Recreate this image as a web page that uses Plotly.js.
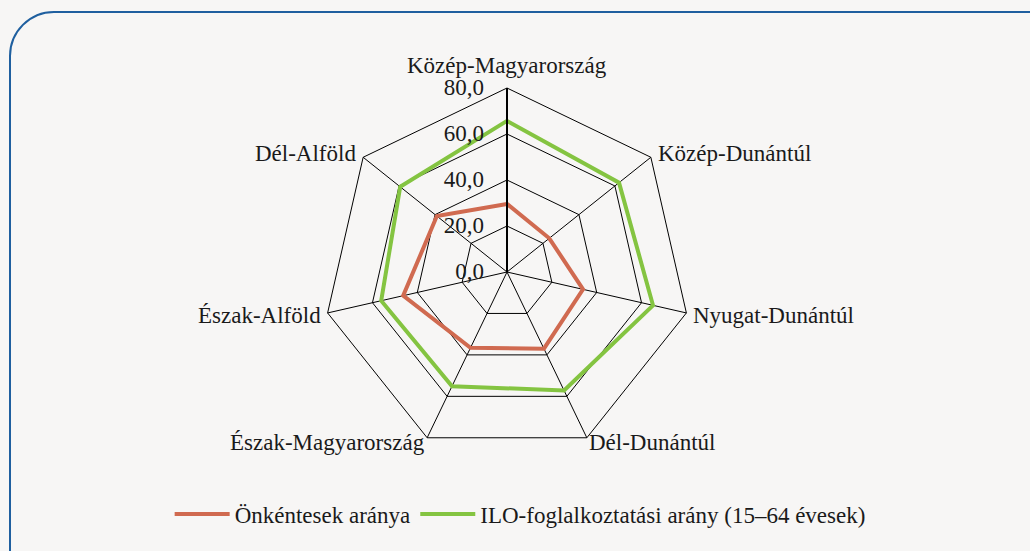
<!DOCTYPE html>
<html><head><meta charset="utf-8">
<script src="https://cdn.plot.ly/plotly-3.0.1.min.js"></script>
<style>
html,body{margin:0;padding:0;background:#f7f6f5;width:1030px;height:551px;overflow:hidden;}
#frame{position:absolute;left:9px;top:11px;width:1100px;height:600px;border:2px solid #1f5f9f;border-radius:45px;box-sizing:border-box;}
#plot{position:absolute;left:0;top:0;width:1030px;height:551px;}
</style></head><body>
<div id="frame"></div>
<div id="plot"></div>
<script>
const categories = ["Közép-Magyarország","Közép-Dunántúl","Nyugat-Dunántúl","Dél-Dunántúl","Észak-Magyarország","Észak-Alföld","Dél-Alföld"];
const volunteerRate = [29.6, 23.5, 33.9, 37.0, 36.6, 46.3, 39.0];
const iloEmploymentRate = [65.7, 62.3, 65.1, 57.2, 55.1, 56.1, 59.4];
const radialTicks = [0, 20, 40, 60, 80];
const seriesNames = ["Önkéntesek aránya", "ILO-foglalkoztatási arány (15–64 évesek)"];

function closed(a){ return a.concat([a[0]]); }
const theta = closed(categories);

const traces = [
  {type:'scatterpolar', mode:'lines', r:closed(volunteerRate), theta:theta, name:seriesNames[0],
   line:{color:'#d06a50', width:4}, hoverinfo:'skip'},
  {type:'scatterpolar', mode:'lines', r:closed(iloEmploymentRate), theta:theta, name:seriesNames[1],
   line:{color:'#84c441', width:4}, hoverinfo:'skip'}
];

const W = 1030, H = 551;
const font = {family:'"Liberation Serif", "DejaVu Serif", serif', size:23, color:'#1a1a1a'};
const dom = {x:[(507-184)/W,(507+184)/W], y:[95/H, 463/H]};

// category labels placed just outside the polygon vertices (computed from the angular layout)
const cx = (dom.x[0]+dom.x[1])/2, cy = (dom.y[0]+dom.y[1])/2;
const rx = (dom.x[1]-dom.x[0])/2, ry = (dom.y[1]-dom.y[0])/2;
const annotations = categories.map((c,i)=>{
  const a = i*2*Math.PI/categories.length;
  const s = Math.sin(a), co = Math.cos(a);
  const ann = {text:c, xref:'paper', yref:'paper', x:cx+rx*s, y:cy+ry*co, showarrow:false, font:font};
  if (Math.abs(s) < 0.1) { ann.xanchor='center'; ann.yanchor='bottom'; ann.yshift=8; }
  else {
    ann.xanchor = s>0 ? 'left' : 'right';
    ann.yanchor = 'middle';
    ann.xshift = co < -0.5 ? 0 : (s>0 ? 5 : -5);
    ann.yshift = co < -0.5 ? -5 : (co < 0 ? -3 : 4);
  }
  return ann;
});

const layout = {
  width:W, height:H,
  margin:{l:0,r:0,t:0,b:0},
  paper_bgcolor:'rgba(0,0,0,0)',
  plot_bgcolor:'rgba(0,0,0,0)',
  separators:',.',
  font:font,
  showlegend:true,
  legend:{orientation:'h', x:0.505, xanchor:'center', y:0.067, yanchor:'middle', itemwidth:55,
          font:font, bgcolor:'rgba(0,0,0,0)', tracegroupgap:0},
  annotations:annotations,
  polar:{
    domain:dom,
    bgcolor:'rgba(0,0,0,0)',
    gridshape:'linear',
    radialaxis:{range:[0,80], tickvals:radialTicks, tickformat:'.1f',
      angle:90, side:'counterclockwise',
      showline:true, linecolor:'#000', linewidth:2, gridcolor:'#000', gridwidth:1,
      ticks:'outside', ticklen:14, tickcolor:'rgba(0,0,0,0)', tickfont:font, tickangle:90},
    angularaxis:{rotation:90, direction:'clockwise', showline:true, linecolor:'#000', linewidth:1,
      gridcolor:'#000', gridwidth:1, ticks:'', showticklabels:false}
  }
};
Plotly.newPlot('plot', traces, layout, {displayModeBar:false, staticPlot:true});
</script>
</body></html>
